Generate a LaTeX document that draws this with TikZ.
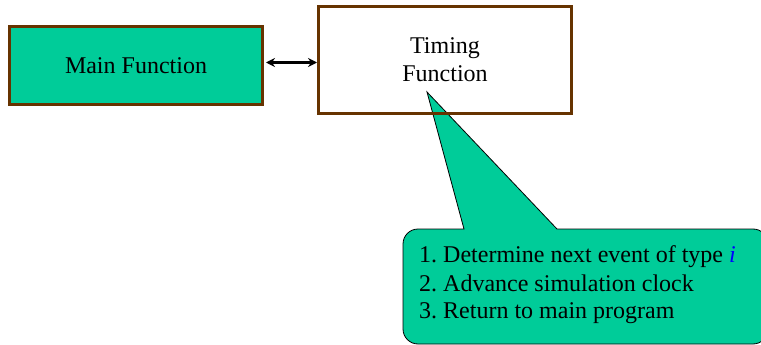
\documentclass[tikz,border=0pt]{standalone}
\usepackage{fontspec}
\setmainfont{Liberation Serif}
\frenchspacing
\usetikzlibrary{arrows.meta}
\definecolor{boxfill}{HTML}{00CC99}
\definecolor{boxedge}{HTML}{663300}
\tikzset{
  fnbox/.style={draw=boxedge, line width=3pt, inner sep=0pt, minimum width=253pt, align=center,
    font=\fontsize{24}{28}\selectfont},
  calltext/.style={anchor=base west, inner sep=0pt, font=\fontsize{24}{28}\selectfont},
  dblarrow/.style={line width=2.5pt, {Stealth[length=9pt,width=9pt]}-{Stealth[length=9pt,width=9pt]}}
}
\begin{document}
\begin{tikzpicture}[x=1pt,y=-1pt]
\useasboundingbox (0,0) rectangle (761,345);
% callout
\filldraw[fill=boxfill, draw=black, line width=0.8pt]
  (464,229) -- (427,92) -- (557,229)
  [rounded corners=15pt] -- (768,229) -- (768,344) -- (403,344) -- (403,229)
  [sharp corners] -- cycle;
\node[calltext] (l1) at (419,262) {1. Determine next event of type \textcolor{blue}{\itshape i}};
\node[calltext] (l2) at (419,291) {2. Advance simulation clock};
\node[calltext] (l3) at (419,318) {3. Return to main program};
% boxes
\node[fnbox, fill=boxfill, minimum height=78pt] (main) at (136,65.5) {Main Function};
\node[fnbox, minimum height=107pt] (timing) at (445,60) {Timing\\Function};
\draw[dblarrow, shorten <=2pt] ([yshift=3pt]main.east) -- ([yshift=3pt]main.east -| timing.west);
\end{tikzpicture}
\end{document}
